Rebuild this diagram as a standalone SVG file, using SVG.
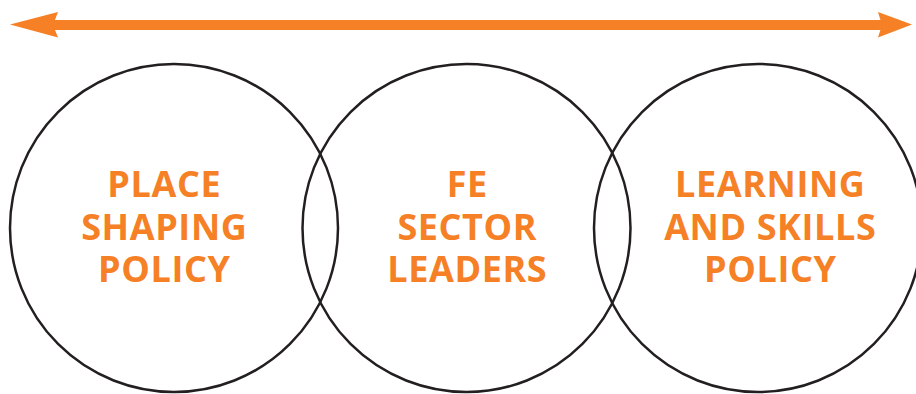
<svg xmlns="http://www.w3.org/2000/svg" width="916" height="394" viewBox="0 0 916 394">
  <style>
    .ring { fill: none; stroke: #231f20; stroke-width: 2.5; }
    .label { fill: #f58025; font-family: "Open Sans", "Noto Sans", sans-serif; font-weight: 700; font-size: 36px; letter-spacing: 0.6px; text-anchor: middle; }
    .shaft { stroke: #f58025; stroke-width: 10; }
    .head { fill: #f58025; }
  </style>
  <rect width="916" height="394" fill="#ffffff"/>

  <!-- double-headed span arrow -->
  <g id="connectors">
    <line class="shaft" x1="50" y1="25" x2="886" y2="25"/>
    <path class="head" d="M10,24.5 L58,12 L53,25 L58,37.5 Z"/>
    <path class="head" d="M912,24.5 L878,12 L882,25 L878,37.5 Z"/>
  </g>

  <g id="place-shaping">
    <circle class="ring" cx="174" cy="228" r="164"/>
    <text class="label" x="164.3" y="197">PLACE</text>
    <text class="label" x="164.3" y="239.5">SHAPING</text>
    <text class="label" x="164.3" y="282">POLICY</text>
  </g>

  <g id="fe-sector">
    <circle class="ring" cx="466.5" cy="228" r="164"/>
    <text class="label" x="467.3" y="197">FE</text>
    <text class="label" x="467.3" y="239.5">SECTOR</text>
    <text class="label" x="467.3" y="282">LEADERS</text>
  </g>

  <g id="learning-skills">
    <circle class="ring" cx="758" cy="228" r="164"/>
    <text class="label" x="770.3" y="197">LEARNING</text>
    <text class="label" x="770.3" y="239.5">AND SKILLS</text>
    <text class="label" x="770.3" y="282">POLICY</text>
  </g>
</svg>
